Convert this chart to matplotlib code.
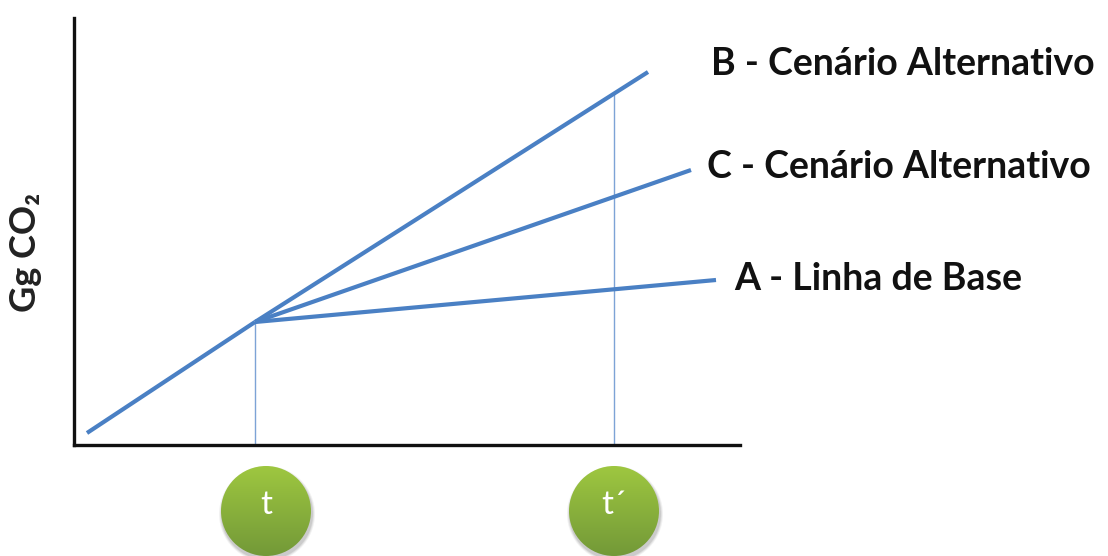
import matplotlib
matplotlib.use("Agg")
import matplotlib.pyplot as plt
import numpy as np
from matplotlib.patches import Circle

# ---- data (arbitrary units: time on x, emissions on y) ----
hist_x = [13, 181]
hist_y = [12, 123]
t_x = 181
tp_x = 540
scenario_names = ["B - Cenário Alternativo", "C - Cenário Alternativo", "A - Linha de Base"]
scenario_end_x = [574, 617, 642]
scenario_end_y = [373, 275, 165]
time_labels = ["t", "t\u00b4"]
ylabel = "Gg CO\u2082"

W, H = 1108, 556
fig = plt.figure(figsize=(W / 100, H / 100), dpi=100)
fig.patch.set_facecolor("white")

# overlay axes in pixel coordinates for decorations
ov = fig.add_axes([0, 0, 1, 1], zorder=0)
ov.set_xlim(0, W)
ov.set_ylim(H, 0)
ov.axis("off")

x0, y0 = 74, 445
xl, yl = 666, 427
ax = fig.add_axes([x0 / W, (H - y0) / H, xl / W, yl / H], zorder=1)
ax.patch.set_alpha(0)
ax.set_xlim(0, xl)
ax.set_ylim(0, yl)
for s in ["top", "right"]:
    ax.spines[s].set_visible(False)
for s in ["left", "bottom"]:
    ax.spines[s].set_linewidth(2.4)
    ax.spines[s].set_color("#111111")
ax.set_xticks([])
ax.set_yticks([])

blue = "#4a80c4"
thin = "#7da3d6"

ax.plot(hist_x, hist_y, color=blue, lw=3.0, solid_capstyle="butt", zorder=3)
for ex, ey in zip(scenario_end_x, scenario_end_y):
    ax.plot([hist_x[-1], ex], [hist_y[-1], ey], color=blue, lw=3.0,
            solid_capstyle="butt", zorder=3)

# vertical guide lines
slope_B = (scenario_end_y[0] - hist_y[-1]) / (scenario_end_x[0] - hist_x[-1])
yB_tp = hist_y[-1] + slope_B * (tp_x - hist_x[-1])
ax.plot([t_x, t_x], [0, hist_y[-1]], color=thin, lw=1.0, zorder=2)
ax.plot([tp_x, tp_x], [0, yB_tp], color=thin, lw=1.0, zorder=2)

# labels
fam = ["Lato", "DejaVu Sans"]
label_pos = [(711, 75), (707, 178), (734, 290)]
for name, (px, py) in zip(scenario_names, label_pos):
    ov.text(px, py, name, fontsize=27, fontweight="bold", family=fam,
            ha="left", va="baseline", color="#111111")

ov.text(25, 252, ylabel, fontsize=26, fontweight="bold", family=fam,
        rotation=90, ha="center", va="center", color="#222222")

# circles with gradient
circ_cx = [266, 614]
cy, r = 511, 45
grad = np.linspace(0, 1, 256)[:, None]
top = np.array([0.62, 0.78, 0.25])
bot = np.array([0.45, 0.60, 0.22])
img = top[None, None, :] * (1 - grad[..., None]) + bot[None, None, :] * grad[..., None]
img = np.repeat(img, 2, axis=1)
for cx, lab in zip(circ_cx, time_labels):
    for k, a in enumerate([0.05, 0.07, 0.09]):
        sh = Circle((cx + 1, cy + 3), r + 3 - k, color="black", alpha=a, lw=0, zorder=1)
        ov.add_patch(sh)
    c = Circle((cx, cy), r, facecolor="none", edgecolor="none", zorder=2)
    ov.add_patch(c)
    im = ov.imshow(img, extent=[cx - r, cx + r, cy + r, cy - r], zorder=2,
                   interpolation="bilinear", aspect="auto")
    im.set_clip_path(c)
    ov.text(cx, cy - 6, lab, fontsize=24, color="white", family=fam,
            ha="center", va="center", zorder=3)

ov.set_xlim(0, W)
ov.set_ylim(H, 0)
fig.savefig("out.png", dpi=100)
